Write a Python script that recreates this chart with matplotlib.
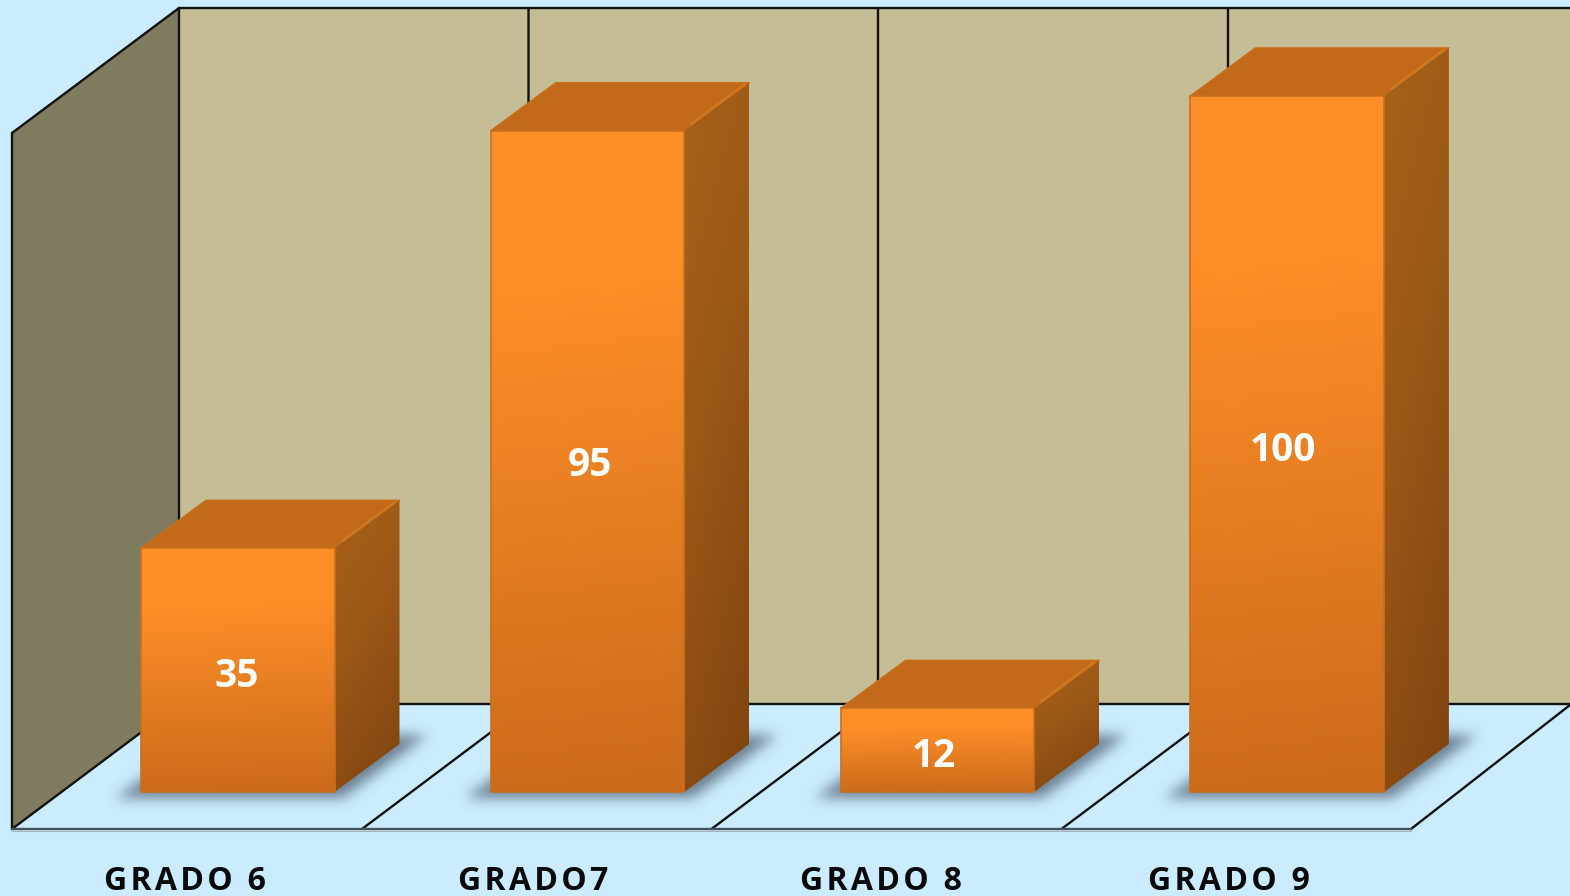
import numpy as np
import matplotlib
matplotlib.use('Agg')
import matplotlib.pyplot as plt
from matplotlib.colors import LinearSegmentedColormap, to_rgb
from matplotlib.patches import Polygon
from matplotlib.path import Path

#Chart values
categories = ['GRADO 6', 'GRADO7', 'GRADO 8', 'GRADO 9']
values = [35, 95, 12, 100]

#Layout in pixels of the 1570x896 picture
W, H = 1570, 896
BASE_Y = 792
PX_PER_VALUE = 6.96
BAR_LEFT = 141
BAR_STEP = 349.8
BAR_W = 193.5
DEPTH_X, DEPTH_Y = 65, 48
label_nudge_x = [-1.5, 2.5, -3.5, -4.5]
label_nudge_y = [1, -1, 1, 1]

plt.rcParams['font.family'] = ['Open Sans', 'DejaVu Sans']

#Colours
bg = '#CBECFF'
wall_back = '#C5BD95'
wall_left = '#7F7B5F'
top_col = '#C2691A'
front_cmap = LinearSegmentedColormap.from_list('front', [(0, '#FF9028'), (0.22, '#FE8F28'), (1, '#CA6A1A')])
side_cmap = LinearSegmentedColormap.from_list('side', [(0, '#A86118'), (0.45, '#9A5716'), (1, '#7E430F')])


#pixel position to axis units: x axis is category index, y axis is the value
def X(px):
    return (px - BAR_LEFT - BAR_W / 2) / BAR_STEP


def Y(py):
    return (BASE_Y - py) / PX_PER_VALUE


def pts(*xy):
    return [(X(a), Y(b)) for a, b in xy]


fig = plt.figure(figsize=(W / 100, H / 100), dpi=100, facecolor=bg)
ax = fig.add_axes([0, 0, 1, 1])
ax.set_facecolor(bg)
ax.axis('off')

#Walls
ax.add_patch(Polygon(pts((179, 8), (W, 8), (W, 704), (179, 704)), fc=wall_back, ec='none', zorder=1))
ax.add_patch(Polygon(pts((12, 133), (179, 8), (179, 704), (12, 829)), fc=wall_left, ec='none', zorder=1))

#Grid lines
lw = 1.7
line_kw = dict(color='#111111', lw=lw, zorder=2, solid_capstyle='round')
for a, b in [((12, 133), (179, 8)), ((12, 133), (12, 829)), ((179, 8), (179, 704)), ((179, 8), (W, 8)),
             ((179, 704), (W, 704)), ((12, 829), (179, 704)), ((1411, 829), (W, 705))]:
    p = pts(a, b)
    ax.plot([p[0][0], p[1][0]], [p[0][1], p[1][1]], **line_kw)
for top_x, front_x in [(528.5, 362), (878, 711.5), (1228, 1061.5)]:
    p = pts((top_x, 8), (top_x, 704), (front_x, 829))
    ax.plot([q[0] for q in p], [q[1] for q in p], **line_kw)
p = pts((12, 829), (1411, 829))
ax.plot([p[0][0], p[1][0]], [p[0][1], p[1][1]], color='#44525C', lw=lw, zorder=2)
p = pts((12, 830.5), (1411, 830.5))
ax.plot([p[0][0], p[1][0]], [p[0][1], p[1][1]], color='#A9B4BA', lw=0.8, zorder=2)

#Soft shadows on the floor, blurred on the pixel grid
kernel = np.exp(-0.5 * (np.arange(-20, 21) / 6.5) ** 2)
kernel = kernel / kernel.sum()
yy, xx = np.mgrid[0:H, 0:W]
grid = np.column_stack([xx.ravel() + 0.5, yy.ravel() + 0.5])
mask = np.zeros((H, W))
for i in range(len(values)):
    l = BAR_LEFT + BAR_STEP * i
    shadow = Path([(l - 26, 798), (l + BAR_W + 8, 798), (l + BAR_W + DEPTH_X + 28, 735),
                   (l + DEPTH_X, 735), (l - 26, 798)])
    mask += shadow.contains_points(grid).reshape(H, W)
mask = np.apply_along_axis(lambda r: np.convolve(r, kernel, mode='same'), 1, mask)
mask = np.apply_along_axis(lambda r: np.convolve(r, kernel, mode='same'), 0, mask)
shadow_img = np.zeros((H, W, 4))
shadow_img[..., :3] = to_rgb('#64798A')
shadow_img[..., 3] = np.clip(mask * 1.1, 0, 1) * 0.85
ax.imshow(shadow_img, extent=[X(0), X(W), Y(H), Y(0)], aspect='auto', zorder=3, interpolation='bilinear')


def gradient_face(corners, cmap, slant, zorder):
    #vertical gradient, tilted a little by slant, clipped to one bar face
    xs = [c[0] for c in corners]
    ys = [c[1] for c in corners]
    u, v = np.meshgrid(np.linspace(0, 1, 60), np.linspace(0, 1, 300))
    grad = np.clip(v * (1 - slant) + u * slant, 0, 1)
    im = ax.imshow(grad, extent=[min(xs), max(xs), min(ys), max(ys)], origin='upper', cmap=cmap,
                   vmin=0, vmax=1, aspect='auto', zorder=zorder, interpolation='bilinear')
    im.set_clip_path(Polygon(corners, transform=ax.transData))


#Bars
for i, (cat, val) in enumerate(zip(categories, values)):
    l = BAR_LEFT + BAR_STEP * i
    r = l + BAR_W
    x0, x1 = X(l), X(r)
    dx = DEPTH_X / BAR_STEP
    dy = DEPTH_Y / PX_PER_VALUE
    z = 5 + i

    top = [(x0, val), (x1, val), (x1 + dx, val + dy), (x0 + dx, val + dy)]
    ax.add_patch(Polygon(top, fc=top_col, ec='#C86F1B', lw=1.2, joinstyle='round', zorder=z))
    side = [(x1, 0), (x1 + dx, dy), (x1 + dx, val + dy), (x1, val)]
    gradient_face(side, side_cmap, 0.25, z)
    #bevel highlight where the top meets the side, stopping short of the corner
    ax.plot([x1 + 0.1 * dx, x1 + 0.94 * dx], [val + 0.1 * dy + 0.25, val + 0.94 * dy + 0.25],
            color='#CE7620', lw=2.0, zorder=z, solid_capstyle='butt')
    front = [(x0, 0), (x1, 0), (x1, val), (x0, val)]
    gradient_face(front, front_cmap, 0.03, z)
    ax.add_patch(Polygon(front, fc='none', ec='#C8701E', lw=1.2, joinstyle='round', zorder=z))

    #value label in the middle of the front face
    ax.text((x0 + x1) / 2 + label_nudge_x[i] / BAR_STEP, val / 2 - (5 + label_nudge_y[i]) / PX_PER_VALUE, str(val),
            color='white', fontsize=28, fontweight='bold', ha='center', va='center', zorder=20)
    #category label under its floor slot
    spaced = '\u200a'.join(cat)
    ax.text(X(185 + 348 * i), Y(881), spaced, color='#0A0A0A', fontsize=23, fontweight='bold',
            ha='center', va='center', zorder=20)

ax.set_xlim(X(0), X(W))
ax.set_ylim(Y(H), Y(0))

fig.savefig('out.png', dpi=100, facecolor=bg)
plt.close(fig)
